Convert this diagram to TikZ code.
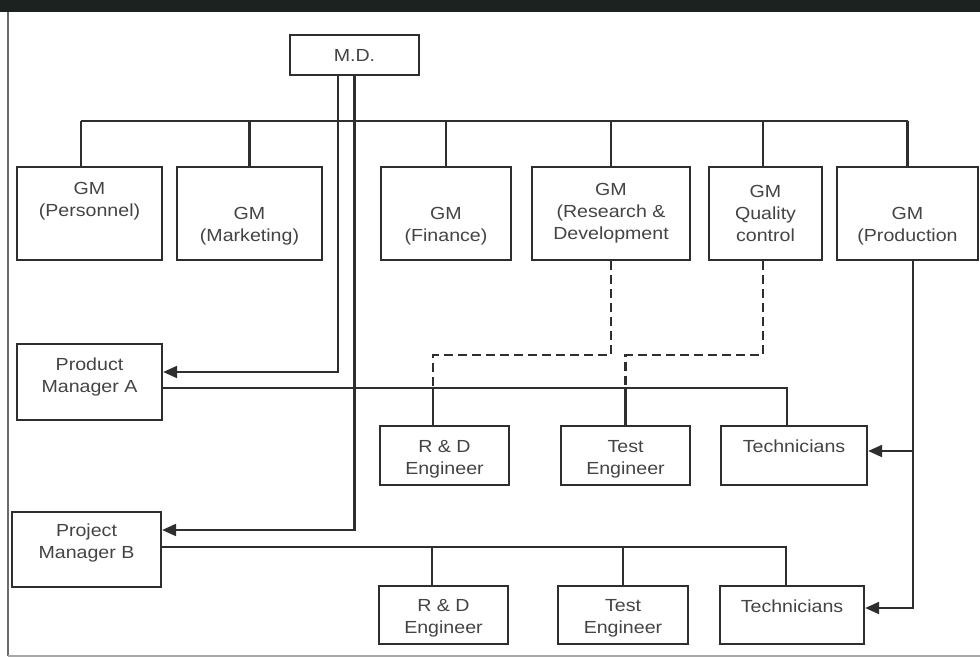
\documentclass[tikz,border=0pt]{standalone}
\usepackage{fontspec}
\setmainfont[FakeStretch=1.12]{Liberation Sans}
\usetikzlibrary{arrows.meta}
\definecolor{ink}{HTML}{2E2E2E}
\definecolor{txt}{HTML}{444444}
\definecolor{band}{HTML}{1C221F}
\definecolor{frameL}{HTML}{6A6A6A}
\definecolor{frameB}{HTML}{A8A8A8}
\tikzset{
  orgbox/.style={draw=ink, line width=2.3pt, fill=white, inner sep=0pt,
    align=center, text=txt, font=\fontsize{17.5}{22}\selectfont},
  link/.style={draw=ink, line width=2.1pt},
  dotlink/.style={draw=ink, line width=2.1pt, dash pattern=on 9pt off 5pt},
  arr/.style={link, -{Triangle[length=14pt,width=12pt]}}
}
\begin{document}
\begin{tikzpicture}[x=1pt,y=-1pt]
\useasboundingbox (0,0) rectangle (980,658);
% page frame: dark strip on top, thin rules on the left and bottom
\fill[band] (0,0) rectangle (980,12);
\draw[frameL, line width=1.8pt] (8,12) -- (8,656);
\draw[frameB, line width=1.4pt] (8,656) -- (980,656);

% boxes
\node[orgbox, minimum width=129, minimum height=40] (md) at (354.5,55) {M.D.};
\node[orgbox, minimum width=145, minimum height=93] (gp) at (89.5,213.5) {GM\\(Personnel)\\\strut};
\node[orgbox, minimum width=145, minimum height=93] (gm) at (249.5,213.5) {\strut\\GM\\(Marketing)};
\node[orgbox, minimum width=130, minimum height=93] (gf) at (446,213.5) {\strut\\GM\\(Finance)};
\node[orgbox, minimum width=158, minimum height=93] (gr) at (611,213.5) {GM\\(Research \&\\Development};
\node[orgbox, minimum width=113, minimum height=93] (gq) at (765.5,213.5) {GM\\Quality\\control};
\node[orgbox, minimum width=141, minimum height=93] (gpr) at (907.5,213.5) {\strut\\GM\\(Production};

\node[orgbox, minimum width=145, minimum height=76] (pma) at (89.5,382) {Product\\Manager A\\[-14pt]\strut};
\node[orgbox, minimum width=149, minimum height=75] (pmb) at (86.5,549.5) {Project\\Manager B\\[-12pt]\strut};

\node[orgbox, minimum width=129, minimum height=59] (rda) at (444.5,455.5) {\strut\\[-18pt]R \& D\\Engineer};
\node[orgbox, minimum width=129, minimum height=59] (tea) at (625.5,455.5) {\strut\\[-18pt]Test\\Engineer};
\node[orgbox, minimum width=146, minimum height=59] (tca) at (794,455.5) {Technicians\\[-10pt]\strut};

\node[orgbox, minimum width=129, minimum height=58] (rdb) at (443.5,615) {\strut\\[-18pt]R \& D\\Engineer};
\node[orgbox, minimum width=130, minimum height=58] (teb) at (623,615) {\strut\\[-18pt]Test\\Engineer};
\node[orgbox, minimum width=144, minimum height=58] (tcb) at (792,615) {Technicians\\[-10pt]\strut};

% helper points
\coordinate (busL) at (81,121);
\coordinate (busR) at (gpr.north |- busL);
\coordinate (pa) at ([yshift=-6pt]pma.east);
\coordinate (pb) at ([yshift=2.5pt]pmb.east);
\coordinate (dl) at (0,355);
\coordinate (pv) at ([xshift=5.5pt]gpr.south);
\coordinate (tcaIn) at ([yshift=4.5pt]tca.east);
\coordinate (tcbIn) at ([yshift=7pt]tcb.east);
\coordinate (rdaTop) at ([xshift=-11.5pt]rda.north);
\coordinate (rdbTop) at ([xshift=-11.5pt]rdb.north);
\coordinate (tcaTop) at ([xshift=-7pt]tca.north);
\coordinate (tcbTop) at ([xshift=-6pt]tcb.north);

% general managers' bus
\draw[link] (busL) -- (busR);
\draw[link] (busL) -- (busL |- gp.north);
\draw[link] (gm.north) -- (gm.north |- busL);
\draw[link] (gf.north) -- (gf.north |- busL);
\draw[link] (gr.north) -- (gr.north |- busL);
\draw[link] ([xshift=-2.5pt]gq.north) -- ([xshift=-2.5pt]gq.north |- busL);
\draw[link] (gpr.north) -- (busR);

% M.D. to the two managers
\draw[arr] ([xshift=-16.5pt]md.south) |- ([yshift=10pt]pma.east);
\draw[arr] (md.south) |- ([yshift=19.5pt]pmb.east);

% product manager A line
\draw[link] (pa) -| (tcaTop);
\draw[link] (rdaTop) -- (rdaTop |- pa);
\draw[link] (tea.north) -- (tea.north |- pa);

% project manager B line
\draw[link] (pb) -| (tcbTop);
\draw[link] (rdbTop) -- (rdbTop |- pb);
\draw[link] (teb.north) -- (teb.north |- pb);

% functional (dotted) links
\draw[dotlink] (gr.south) -- (gr.south |- dl) -| (rdaTop |- pa);
\draw[dotlink] ([xshift=-2.5pt]gq.south) -- ([xshift=-2.5pt]gq.south |- dl) -| (tea.north |- pa);

% production to technicians
\draw[arr] (pv) |- (tcbIn);
\draw[arr] (pv |- tcaIn) -- (tcaIn);
\end{tikzpicture}
\end{document}
